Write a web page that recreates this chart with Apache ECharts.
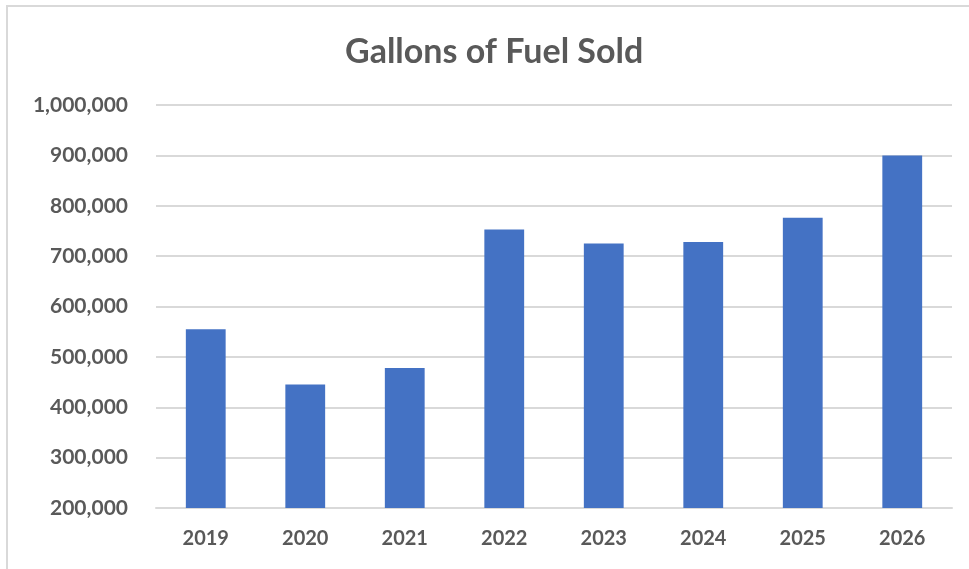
<!DOCTYPE html>
<html>
<head>
<meta charset="utf-8">
<title>Gallons of Fuel Sold</title>
<script src="https://cdn.jsdelivr.net/npm/echarts@6/dist/echarts.min.js"></script>
<style>
  html, body { margin: 0; padding: 0; background: #fff; }
  #chart { width: 969px; height: 569px; }
</style>
</head>
<body>
<div id="chart"></div>
<script>
  // data
  const years = ['2019', '2020', '2021', '2022', '2023', '2024', '2025', '2026']
  const gallons = [555000, 445000, 478000, 753000, 725000, 728000, 776000, 900000]
  const yMin = 200000
  const yMax = 1000000
  const yStep = 100000

  const textColor = '#595959'
  const lineColor = '#d9d9d9'
  const fontFamily = 'Lato, "Open Sans", sans-serif'

  const chart = echarts.init(document.getElementById('chart'), null, { renderer: 'canvas' })

  chart.setOption({
    animation: false,
    backgroundColor: '#fff',
    title: {
      text: 'Gallons of Fuel Sold',
      left: 340,
      top: 30,
      textStyle: {
        color: textColor,
        fontFamily: fontFamily,
        fontWeight: 'bold',
        fontSize: 34
      }
    },
    // chart area border (only top and left edges are in frame)
    graphic: [{
      type: 'rect',
      shape: { x: 7, y: 6, width: 1000, height: 600 },
      style: { fill: 'none', stroke: lineColor, lineWidth: 2 },
      silent: true
    }],
    grid: {
      left: 156,
      right: 17,
      top: 105,
      bottom: 61
    },
    xAxis: {
      type: 'category',
      data: years,
      axisTick: { show: false },
      axisLine: { lineStyle: { color: lineColor, width: 2 } },
      axisLabel: {
        color: textColor,
        fontFamily: fontFamily,
        fontWeight: 'bold',
        fontSize: 20,
        margin: 21
      }
    },
    yAxis: {
      type: 'value',
      min: yMin,
      max: yMax,
      interval: yStep,
      axisLine: { show: false },
      axisTick: { show: false },
      splitLine: { lineStyle: { color: lineColor, width: 2 } },
      axisLabel: {
        color: textColor,
        fontFamily: fontFamily,
        fontWeight: 'bold',
        fontSize: 21,
        margin: 28,
        formatter: v => v.toLocaleString('en-US')
      }
    },
    series: [{
      name: 'Gallons',
      type: 'bar',
      data: gallons,
      barWidth: '40%',
      itemStyle: { color: '#4472c4' }
    }]
  })
</script>
</body>
</html>
